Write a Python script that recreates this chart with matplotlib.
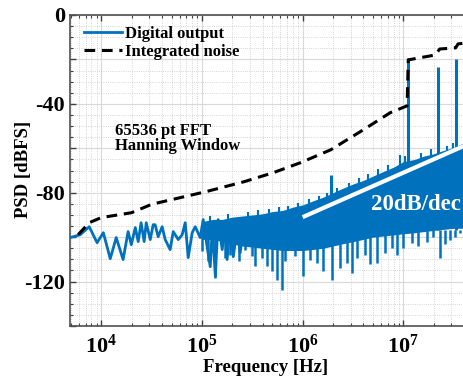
import numpy as np
import matplotlib
matplotlib.use("Agg")
import matplotlib.pyplot as plt
from matplotlib.ticker import MultipleLocator, FixedLocator, FuncFormatter, LogLocator, NullFormatter

BLUE = "#0072BD"
plt.rcParams.update({"font.family": "Liberation Serif", "font.weight": "bold",
                     "mathtext.fontset": "custom", "mathtext.rm": "Liberation Serif:bold",
                     "mathtext.bf": "Liberation Serif:bold", "mathtext.it": "Liberation Serif:bold"})

# ── data ─────────────────────────────────────────────────────────────────────
# low-frequency part of the PSD (individual FFT bins still resolvable)
psd_f = [4.92e3, 6.2e3, 7.6e3, 9.1e3, 1.05e4, 1.23e4, 1.41e4, 1.65e4, 1.85e4, 1.99e4,
         2.18e4, 2.33e4, 2.49e4, 2.67e4, 2.8e4, 3.07e4, 3.28e4, 3.43e4, 3.68e4, 4.03e4,
         4.32e4, 4.84e4, 5.19e4, 5.82e4, 6.37e4, 6.83e4, 7.31e4, 8.01e4, 8.58e4, 9.62e4,
         1.03e5, 1.13e5, 1.21e5, 1.27e5, 1.36e5, 1.45e5, 1.59e5, 1.70e5, 1.78e5, 1.91e5,
         2.05e5, 2.24e5, 2.40e5, 2.57e5]
psd_db = [-100.2, -98.9, -95.3, -102.5, -98.0, -109.7, -100.2, -110.1, -97.5, -103.4,
          -95.7, -102.0, -93.5, -102.0, -93.5, -101.1, -94.4, -94.4, -99.8, -95.3,
          -101.1, -105.6, -97.5, -101.1, -98.9, -93.5, -109.2, -98.0, -95.3, -100.2,
          -92.1, -104.7, -113.3, -95.3, -117.5, -92.1, -105.6, -94.4, -110.1, -93.5,
          -108.8, -95.7, -107.0, -95.7]

# dense noise band above ~100 kHz: upper and lower envelope
band_f = [1.0e5, 1.3e5, 1.6e5, 2.0e5, 2.5e5, 3.2e5, 4.0e5, 5.0e5, 6.3e5, 8.0e5,
          1.0e6, 1.3e6, 1.6e6, 2.0e6, 2.5e6, 3.2e6, 4.0e6, 5.0e6, 6.3e6, 8.0e6,
          1.0e7, 1.3e7, 1.6e7, 2.0e7, 2.5e7, 3.2e7, 4.0e7, 5.0e7]
band_hi = [-93, -92, -92, -91, -90.5, -90, -89.5, -88.5, -88, -86.5,
           -85.5, -83.5, -82, -80, -78, -76, -74.5, -72.5, -70.5, -68.5,
           -66, -65, -63.5, -62.5, -61, -59.5, -57.5, -55]
band_lo = [-101, -101, -102, -103, -104, -104.5, -105, -105.5, -106, -106,
           -106, -105.5, -105, -104, -103, -102, -101, -100, -99.5, -99,
           -98.5, -98, -97.5, -97, -96.5, -96, -96, -95]

# downward noise spikes below the band
spike_f = [1.00e5, 1.16e5, 1.36e5, 1.70e5, 1.91e5, 2.31e5, 2.69e5, 3.14e5, 3.38e5, 3.94e5,
           4.42e5, 4.95e5, 5.56e5, 6.23e5, 6.72e5, 8.45e5, 1.02e6, 1.19e6, 1.39e6, 1.61e6,
           1.97e6, 2.36e6, 2.77e6, 3.11e6, 3.48e6, 4.19e6, 4.69e6, 5.51e6, 6.61e6, 7.76e6,
           8.69e6, 9.98e6, 1.22e7, 1.41e7, 1.73e7, 1.98e7, 2.32e7, 2.61e7, 2.92e7, 3.27e7,
           3.67e7]
spike_db = [-106.4, -110.9, -118.3, -109.4, -107.9, -110.9, -105.6, -108.6, -113.1, -109.4,
            -113.1, -115.4, -119.1, -123.6, -110.9, -108.6, -117.6, -110.1, -111.6, -115.4,
            -119.1, -114, -111.5, -116, -109.2, -108, -112, -111.5, -107, -105,
            -108, -104.7, -102.5, -104, -102, -100, -109.2, -103, -101.1, -100,
            -98]

# small upward tufts on top of the band
tuft_f = [1.2e5, 1.8e5, 2.9e5, 3.6e5, 4.6e5, 5.8e5, 7.2e5, 9.0e5, 1.15e6, 1.45e6,
          1.75e6, 2.2e6, 2.9e6, 3.6e6, 4.5e6, 5.6e6, 7.0e6, 9.3e6, 1.05e7, 1.5e7,
          1.9e7, 2.7e7, 3.1e7, 4.4e7]
tuft_db = [-90.5, -89.5, -88.5, -88, -87.5, -86.5, -86, -84.5, -83, -81.5,
           -80, -78, -75.5, -73.5, -71.5, -69.5, -67.5, -63, -63.5, -62,
           -60.5, -59, -57.5, -55.5]

# tones / harmonics
tone_f = [1.9e6, 1.12e7, 2.22e7, 3.36e7]
tone_db = [-72, -19.5, -23.4, -20]

# integrated noise
int_f = [5.9e3, 7.6e3, 1e4, 2e4, 3.1e4, 3.7e4, 1.08e5, 2.6e5, 5.1e5, 9.5e5,
         1.9e6, 4e6, 7.4e6, 1.09e7, 1.12e7, 2.07e7, 2.3e7, 3.3e7, 3.5e7, 4.2e7]
int_db = [-98.9, -93.5, -91.2, -89.0, -85.4, -84.5, -79.6, -75.1, -71.0, -66.5,
          -60.7, -51.7, -44.0, -40.9, -20.2, -18.0, -15.3, -14.8, -13.0, -12.6]

# 20 dB/dec guide
slope_f = [1e6, 5e7]
slope_db = [-91, -57]

# ── figure ───────────────────────────────────────────────────────────────────
fig = plt.figure(figsize=(4.63, 3.81), dpi=100)
ax = fig.add_axes([70/463, 1-326/381, 403.7/463, 311/381])

ax.fill_between(band_f, band_lo, band_hi, color=BLUE, lw=0, zorder=2)
ax.vlines(spike_f, spike_db, -97, color=BLUE, lw=1.8, zorder=2)
ax.vlines(tuft_f, np.array(tuft_db) - 8, tuft_db, color=BLUE, lw=1.5, zorder=2)
ax.vlines(tone_f, -97, tone_db, color=BLUE, lw=2.2, zorder=2)
ln_psd, = ax.plot(psd_f, psd_db, color=BLUE, lw=2, label="Digital output", zorder=3)
ax.plot(slope_f, slope_db, color="white", lw=3, zorder=4, solid_capstyle="butt")
ln_int, = ax.plot(int_f, int_db, color="black", lw=2.2, ls=(0, (3.5, 2.2)),
                  label="Integrated noise", zorder=5)

ax.text(4.8e6, -85.4, "20dB/dec", color="white", fontsize=16.5, fontweight="bold",
        ha="left", va="center", zorder=6)
ax.text(1.38e4, -55.5, "65536 pt FFT\nHanning Window", fontsize=12, fontweight="bold",
        ha="left", va="center", linespacing=0.95)

ax.set_xscale("log")
ax.set_xlim(4.9e3, 5e7)
ax.set_ylim(-140, 0)

ax.xaxis.set_major_locator(FixedLocator([1e4, 1e5, 1e6, 1e7]))
ax.xaxis.set_minor_locator(LogLocator(base=10, subs=np.arange(2, 10), numticks=20))
ax.xaxis.set_minor_formatter(NullFormatter())
ax.xaxis.set_major_formatter(FuncFormatter(lambda v, p: r"$\mathbf{10^{%d}}$" % round(np.log10(v))))
ax.yaxis.set_major_locator(MultipleLocator(20))
ax.yaxis.set_minor_locator(MultipleLocator(5))
ax.yaxis.set_major_formatter(FuncFormatter(lambda v, p: "%d" % v if round(v) % 40 == 0 else ""))

ax.grid(True, which="major", color="#d9d9d9", lw=0.8, ls="-")
ax.grid(True, which="minor", color="#c8c8c8", lw=0.6, ls=":")
ax.set_axisbelow(True)
ax.tick_params(which="both", direction="in", top=True, right=True, colors="#404040",
               labelcolor="black", labelsize=16)
ax.tick_params(which="major", length=4, width=1)
ax.tick_params(which="minor", length=2.5, width=0.8)
ax.tick_params(axis="x", pad=6)
for s in ax.spines.values():
    s.set_color("#505050"); s.set_linewidth(1.2)

fig.text(266/463, 1-367/381, "Frequency [Hz]", fontsize=13.5, fontweight="bold",
         ha="center", va="center")
fig.text(24/463, 1-169/381, "PSD [dBFS]", fontsize=13.5, fontweight="bold",
         ha="center", va="center", rotation=90)

ax.legend(handles=[ln_psd, ln_int], loc="upper left", bbox_to_anchor=(84/463, 1-26/381),
          bbox_transform=fig.transFigure, frameon=False, fontsize=12, handlelength=2.3,
          handletextpad=0.15, labelspacing=0.1, borderpad=0, borderaxespad=0)

fig.savefig("out.png", dpi=100)
